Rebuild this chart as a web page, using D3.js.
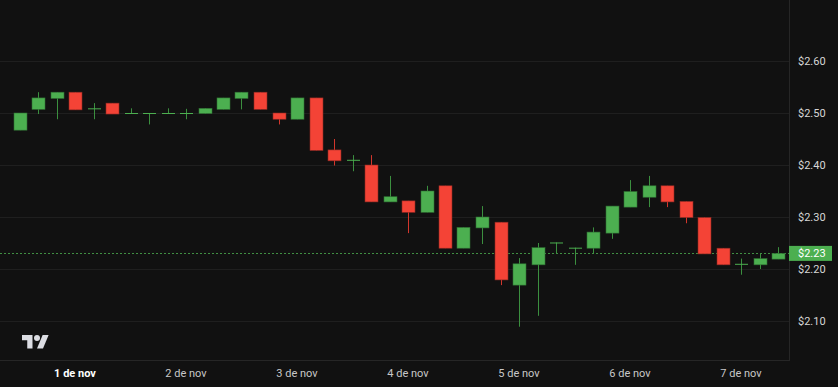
<!DOCTYPE html>
<html>
<head>
<meta charset="utf-8">
<script src="https://cdn.jsdelivr.net/npm/d3@7"></script>
<style>
    body { margin: 0; background: #111111; }
    svg { display: block; }
    text { font-family: Roboto, "Noto Sans", sans-serif; }
</style>
</head>
<body>
<script>
// 4h candles, 31 oct 12:00 -> 7 nov 16:00
var opens  = [2.467, 2.507, 2.528, 2.540, 2.508, 2.519, 2.499, 2.499, 2.499, 2.499,
              2.499, 2.507, 2.528, 2.540, 2.500, 2.488, 2.529, 2.429, 2.409, 2.400,
              2.329, 2.331, 2.309, 2.360, 2.240, 2.279, 2.290, 2.169, 2.208, 2.250,
              2.240, 2.240, 2.269, 2.319, 2.338, 2.360, 2.330, 2.299, 2.240, 2.209,
              2.208, 2.219];
var highs  = [2.500, 2.540, 2.540, 2.540, 2.519, 2.519, 2.509, 2.500, 2.509, 2.508,
              2.509, 2.529, 2.540, 2.540, 2.500, 2.529, 2.529, 2.450, 2.419, 2.419,
              2.379, 2.331, 2.360, 2.360, 2.280, 2.321, 2.290, 2.221, 2.250, 2.251,
              2.241, 2.280, 2.321, 2.371, 2.379, 2.360, 2.330, 2.299, 2.240, 2.220,
              2.229, 2.242];
var lows   = [2.467, 2.498, 2.488, 2.506, 2.488, 2.498, 2.499, 2.478, 2.499, 2.488,
              2.499, 2.507, 2.507, 2.507, 2.478, 2.488, 2.428, 2.399, 2.388, 2.329,
              2.329, 2.269, 2.309, 2.240, 2.240, 2.248, 2.169, 2.089, 2.110, 2.230,
              2.208, 2.230, 2.258, 2.319, 2.319, 2.319, 2.288, 2.229, 2.208, 2.189,
              2.200, 2.219];
var closes = [2.500, 2.529, 2.540, 2.506, 2.509, 2.498, 2.500, 2.500, 2.500, 2.500,
              2.509, 2.529, 2.540, 2.507, 2.488, 2.529, 2.428, 2.408, 2.410, 2.329,
              2.339, 2.309, 2.350, 2.240, 2.280, 2.300, 2.179, 2.210, 2.241, 2.251,
              2.241, 2.271, 2.321, 2.349, 2.360, 2.329, 2.299, 2.229, 2.208, 2.210,
              2.220, 2.230];

var dayIndex  = [3, 9, 15, 21, 27, 33, 39];
var dayLabels = ["1 de nov", "2 de nov", "3 de nov", "4 de nov",
                 "5 de nov", "6 de nov", "7 de nov"];
var priceTicks = [2.10, 2.20, 2.30, 2.40, 2.50, 2.60];
var lastPrice = 2.23;

var W = 838, H = 387;
var plotW = 789, plotH = 360;
var green = "#4caf50", red = "#f44336";
var greenWick = "#3b8f3f", redWick = "#d3362c";

var candles = opens.map(function(o, i) {
    return {i: i, o: o, h: highs[i], l: lows[i], c: closes[i]};
});

var svg = d3.select("body").append("svg")
    .attr("width", W)
    .attr("height", H);

svg.append("rect")
    .attr("width", W).attr("height", H)
    .attr("fill", "#111111");

var x = d3.scaleLinear().domain([0, 41]).range([19.5, 778]);
var y = d3.scaleLinear().domain([2.10, 2.60]).range([321, 61]);

// horizontal grid
svg.append("g").selectAll("line")
    .data(priceTicks)
    .enter().append("line")
    .attr("x1", 0).attr("x2", plotW)
    .attr("y1", function(d) { return Math.round(y(d)) + 0.5; })
    .attr("y2", function(d) { return Math.round(y(d)) + 0.5; })
    .attr("stroke", "#1f1f1f")
    .attr("stroke-width", 1);

// frame of the price pane
svg.append("line")
    .attr("x1", plotW + 0.5).attr("x2", plotW + 0.5)
    .attr("y1", 0).attr("y2", plotH)
    .attr("stroke", "#262626");
svg.append("line")
    .attr("x1", 0).attr("x2", plotW + 1)
    .attr("y1", plotH + 0.5).attr("y2", plotH + 0.5)
    .attr("stroke", "#262626");

// last price line
svg.append("line")
    .attr("x1", 0).attr("x2", plotW)
    .attr("y1", Math.round(y(lastPrice)) + 0.5)
    .attr("y2", Math.round(y(lastPrice)) + 0.5)
    .attr("stroke", green)
    .attr("stroke-width", 1)
    .attr("stroke-dasharray", "2,2")
    .attr("opacity", 0.8);

var bodyW = 13;
var g = svg.append("g").selectAll("g")
    .data(candles)
    .enter().append("g");

g.append("line")
    .attr("x1", function(d) { return Math.round(x(d.i)) + 0.5; })
    .attr("x2", function(d) { return Math.round(x(d.i)) + 0.5; })
    .attr("y1", function(d) { return y(d.h); })
    .attr("y2", function(d) { return y(d.l); })
    .attr("stroke", function(d) { return d.c >= d.o ? greenWick : redWick; })
    .attr("stroke-width", 1);

g.append("rect")
    .attr("x", function(d) { return Math.round(x(d.i)) - 6; })
    .attr("y", function(d) { return y(Math.max(d.o, d.c)); })
    .attr("width", bodyW)
    .attr("height", function(d) {
        return Math.max(1, Math.abs(y(d.o) - y(d.c)));
    })
    .attr("fill", function(d) { return d.c >= d.o ? green : red; })
    .attr("stroke", function(d) {
        return Math.abs(y(d.o) - y(d.c)) > 2
            ? (d.c >= d.o ? "#2f6f33" : "#8f2a24") : "none";
    })
    .attr("stroke-width", 0.6);

// price axis
var yAxis = d3.axisRight(y)
    .tickValues(priceTicks)
    .tickSize(0)
    .tickPadding(9)
    .tickFormat(function(d) { return "$" + d.toFixed(2); });

var ga = svg.append("g")
    .attr("transform", "translate(" + plotW + ",0)")
    .call(yAxis);
ga.select(".domain").remove();
ga.selectAll("text")
    .attr("fill", "#d6d6d6")
    .style("font-size", "11px");

// last price label
svg.append("rect")
    .attr("x", plotW)
    .attr("y", y(lastPrice) - 7.5)
    .attr("width", 43)
    .attr("height", 15)
    .attr("fill", green);
svg.append("text")
    .text("$" + lastPrice.toFixed(2))
    .attr("x", plotW + 9)
    .attr("y", y(lastPrice) + 4)
    .attr("fill", "#ffffff")
    .style("font-size", "11px");

// time axis
svg.append("g").selectAll("text")
    .data(dayIndex)
    .enter().append("text")
    .text(function(d, i) { return dayLabels[i]; })
    .attr("x", function(d) { return x(d); })
    .attr("y", 377)
    .attr("text-anchor", "middle")
    .attr("fill", function(d, i) { return i === 0 ? "#ffffff" : "#c8c8c8"; })
    .style("font-weight", function(d, i) { return i === 0 ? "bold" : "normal"; })
    .style("font-size", "11px");

// TradingView logo
var logo = svg.append("g")
    .attr("transform", "translate(22,332) scale(0.75)")
    .attr("fill", "#dcdde3");
logo.append("path").attr("d", "M14 22H7V11H0V4h14v18z");
logo.append("path").attr("d", "M28 22h-8l7.5-18h8L28 22z");
logo.append("circle").attr("cx", 20).attr("cy", 8).attr("r", 4);
</script>
</body>
</html>
